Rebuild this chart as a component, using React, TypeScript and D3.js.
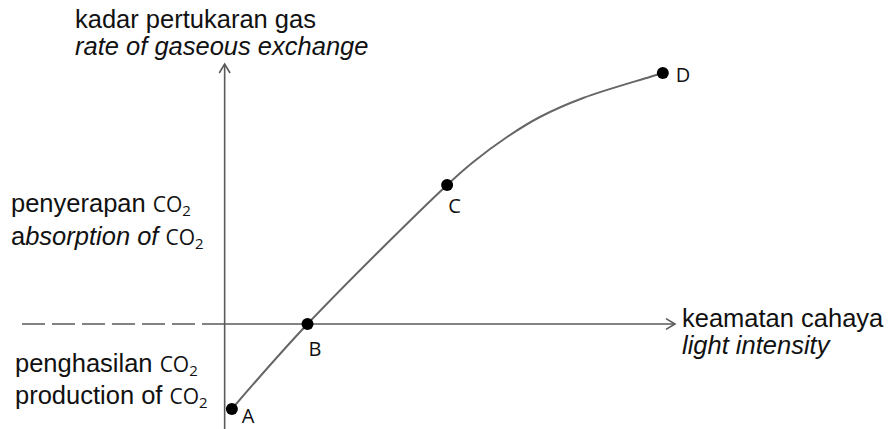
import React from 'react';
import { scaleLinear, line, curveCatmullRom } from 'd3';

// points on the curve (light intensity, rate of gaseous exchange)
const pointNames = ['A', 'B', 'C', 'D'];
const pointX = [0.16, 1.84, 4.94, 9.73];
const pointY = [-3.4, 0, 5.56, 10.04];

// readings along the curve, including the bend between C and D
const curveX = [0.16, 1.84, 4.94, 5.52, 6.27, 7.0, 7.96, 9.44, 9.73];
const curveY = [-3.4, 0, 5.56, 6.48, 7.48, 8.28, 9.04, 9.88, 10.04];

// axis extents
const xMin = -4.5;
const xMax = 10;
const yMin = -4.2;
const yMax = 10.4;

const width = 889;
const height = 429;

const labelOffsets: Record<string, [number, number]> = {
  A: [10, 14],
  B: [1, 32],
  C: [1, 28],
  D: [13, 9],
};

const textFont = '"Liberation Sans", Arial, sans-serif';
const chemFont = '"Open Sans", sans-serif';

const CO2 = () => (
  <>
    <tspan fontFamily={chemFont} fontSize={21}>CO</tspan>
    <tspan fontFamily={chemFont} fontSize={15} dy={4}>2</tspan>
  </>
);

export default function App() {
  const x = scaleLinear().domain([xMin, xMax]).range([22, 675]);
  const y = scaleLinear().domain([yMin, yMax]).range([height, 64]);

  const x0 = x(0);
  const y0 = y(0);

  const path = line<number>()
    .x((_, i) => x(curveX[i]))
    .y((d) => y(d))
    .curve(curveCatmullRom.alpha(0.5))(curveY);

  const axisColor = '#5a5a5a';
  const arm = 9;

  const xTip = x(xMax);
  const yTip = y(yMax);

  return (
    <svg
      width={width}
      height={height}
      style={{ position: 'absolute', left: 0, top: 0, background: '#fff' }}
    >
      {/* dashed negative x-axis */}
      <line
        x1={x(xMin)}
        x2={x0}
        y1={y0}
        y2={y0}
        stroke={axisColor}
        strokeWidth={1.6}
        strokeDasharray="23 7"
      />
      {/* x axis */}
      <line x1={x0} x2={xTip} y1={y0} y2={y0} stroke={axisColor} strokeWidth={1.6} />
      <path
        d={`M${xTip - arm},${y0 - arm * 0.6}L${xTip},${y0}L${xTip - arm},${y0 + arm * 0.6}`}
        fill="none"
        stroke={axisColor}
        strokeWidth={1.6}
      />
      {/* y axis */}
      <line x1={x0} x2={x0} y1={y(yMin)} y2={yTip} stroke={axisColor} strokeWidth={1.6} />
      <path
        d={`M${x0 - arm * 0.6},${yTip + arm}L${x0},${yTip}L${x0 + arm * 0.6},${yTip + arm}`}
        fill="none"
        stroke={axisColor}
        strokeWidth={1.6}
      />

      {/* curve */}
      <path d={path ?? ''} fill="none" stroke="#666" strokeWidth={2} />

      {pointNames.map((name, i) => (
        <g key={name}>
          <circle cx={x(pointX[i])} cy={y(pointY[i])} r={6} fill="#000" />
          <text
            x={x(pointX[i]) + labelOffsets[name][0]}
            y={y(pointY[i]) + labelOffsets[name][1]}
            fontFamily={chemFont}
            fontSize={20}
            fill="#111"
          >
            {name}
          </text>
        </g>
      ))}

      <g fontFamily={textFont} fontSize={25.5} fill="#111">
        <text x={75} y={28}>kadar pertukaran gas</text>
        <text x={75} y={55} fontStyle="italic">rate of gaseous exchange</text>

        <text x={11} y={212}>
          penyerapan <CO2 />
        </text>
        <text x={11} y={245}>
          <tspan>a</tspan>
          <tspan fontStyle="italic">bsorption of</tspan> <CO2 />
        </text>

        <text x={15} y={372}>
          penghasilan <CO2 />
        </text>
        <text x={15} y={404}>
          production of <CO2 />
        </text>

        <text x={682} y={327}>keamatan cahaya</text>
        <text x={682} y={354} fontStyle="italic">light intensity</text>
      </g>
    </svg>
  );
}
